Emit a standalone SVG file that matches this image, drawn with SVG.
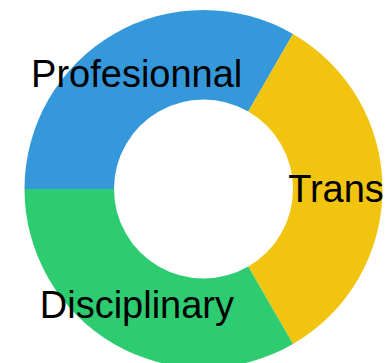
<svg xmlns="http://www.w3.org/2000/svg" width="390" height="363" viewBox="0 0 390 363">
<style>
.lbl{font-family:"Liberation Sans",Arial,sans-serif;font-size:38px;fill:#000;text-anchor:middle}
</style>
<rect width="390" height="363" fill="#fff"/>
<g id="seg-profesionnal">
<path d="M 24.5 189 A 179 179 0 0 1 293 33.98 L 248.25 111.49 A 89.5 89.5 0 0 0 114 189 Z" fill="#3498db"/>
</g>
<g id="seg-trans">
<path d="M 293 33.98 A 179 179 0 0 1 293 344.02 L 248.25 266.51 A 89.5 89.5 0 0 0 248.25 111.49 Z" fill="#f1c40f"/>
</g>
<g id="seg-disciplinary">
<path d="M 293 344.02 A 179 179 0 0 1 24.5 189 L 114 189 A 89.5 89.5 0 0 0 248.25 266.51 Z" fill="#2ecc71"/>
</g>
<g id="labels">
<text class="lbl" x="136.7" y="87">Profesionnal</text>
<text class="lbl" x="336" y="201.5">Trans</text>
<text class="lbl" x="136.9" y="318">Disciplinary</text>
</g>
</svg>
